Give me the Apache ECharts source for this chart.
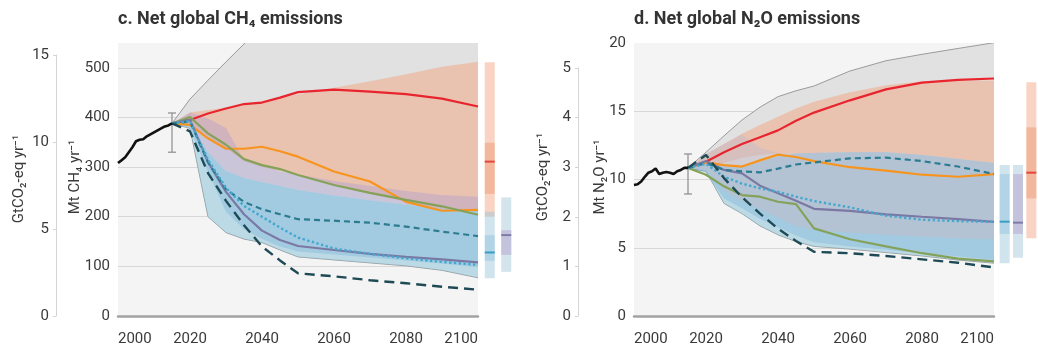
<!DOCTYPE html>
<html><head><meta charset="utf-8">
<script src="https://cdn.jsdelivr.net/npm/echarts@6/dist/echarts.min.js"></script>
<style>html,body{margin:0;padding:0;background:#fff}#c{width:1038px;height:354px}</style>
</head><body><div id="c"></div>
<script>
// ---------------- DATA ----------------
const years = [2015, 2020, 2025, 2030, 2035, 2040, 2045, 2050, 2060, 2070, 2080, 2090, 2100];
const histYears = [2000,2001,2002,2003,2004,2005,2006,2007,2008,2009,2010,2011,2012,2013,2014,2015];
const xTicks = [2000, 2020, 2040, 2060, 2080, 2100];

// CH4 (Mt CH4 / yr)
const ch4Hist = [308,314,320,330,340,352,355,356,362,366,370,374,378,382,384,388];
const ch4HistRange = [2015, 330, 409];
const ch4Red    = [388,395,408,418,427,430,440,451,456,452,447,438,422];
const ch4Orange = [388,385,358,337,337,341,332,321,291,271,230,212,214];
const ch4Green  = [388,401,368,345,316,304,296,284,264,248,234,221,204];
const ch4Purple = [388,395,310,250,205,172,153,141,133,125,119,114,108];
const ch4Cyan   = [388,393,315,258,222,200,178,158,136,125,116,109,103];
const ch4Teal   = [388,392,310,255,230,215,205,195,192,188,180,170,161];
const ch4Dark   = [388,372,288,232,183,140,112,86,80,72,66,59,53];
const ch4GrayLow    = [388,378,200,168,155,148,133,119,113,107,101,92,77];
const ch4GrayHigh   = [388,437,475,512,548,585,620,655,720,780,840,900,950];
const ch4SalmonLow  = [388,385,362,338,312,300,292,283,263,246,230,215,210];
const ch4SalmonHigh = [388,410,415,420,427,433,440,447,460,473,487,502,512];
const ch4PurpleLow  = [388,388,330,292,278,270,262,254,243,233,224,216,212];
const ch4PurpleHigh = [388,410,398,379,314,305,291,285,272,262,252,244,240];
const ch4BlueLow    = [388,380,290,210,175,155,140,130,124,118,112,106,98];
const ch4BlueHigh   = [388,388,330,292,278,270,262,254,243,233,224,216,212];
// ranges at 2100: [column, low, innerLow, median, innerHigh, high]
const ch4BarSalmon = [0, 200, 246, 311, 349, 511];
const ch4BarBlue   = [0, 76, 111, 128, 163, 210];
const ch4BarPurple = [1, 89, 123, 163, 173, 239];

// N2O (Mt N2O / yr)
const n2oHist = [9.6,9.65,9.85,10.2,10.5,10.6,10.8,10.4,10.5,10.55,10.5,10.4,10.6,10.7,10.85,10.85];
const n2oHistRange = [2015, 8.94, 11.87];
const n2oRed    = [10.85,11.3,12.0,12.6,13.1,13.6,14.3,14.9,15.8,16.6,17.1,17.3,17.4];
const n2oOrange = [10.85,11.25,11.05,10.95,11.4,11.82,11.65,11.35,10.9,10.65,10.35,10.2,10.4];
const n2oTeal   = [10.85,11.2,10.7,10.6,10.52,10.8,11.1,11.25,11.55,11.6,11.35,10.95,10.4];
const n2oPurple = [10.85,11.35,10.7,10.45,9.55,9.0,8.45,7.85,7.7,7.45,7.27,7.1,6.9];
const n2oCyan   = [10.85,11.15,10.2,9.7,9.35,9.1,8.74,8.42,7.96,7.35,7.05,6.95,6.9];
const n2oGreen  = [10.85,10.35,9.5,8.86,8.74,8.37,8.2,6.42,5.62,5.1,4.6,4.2,4.0];
const n2oDark   = [10.85,11.8,10.1,8.7,7.5,6.4,5.5,4.7,4.6,4.4,4.15,3.9,3.56];
const n2oGrayLow    = [10.85,10.6,8.25,7.5,6.6,5.95,5.45,5.1,4.9,4.65,4.4,4.1,3.87];
const n2oGrayHigh   = [10.85,12.0,13.2,14.36,15.3,16.07,16.5,16.85,17.95,18.7,19.17,19.6,20.02];
const n2oSalmonLow  = [10.85,11.0,11.2,11.6,11.8,11.9,11.9,11.95,12.0,12.0,11.8,11.5,11.2];
const n2oSalmonHigh = [10.85,11.8,12.6,13.35,14.0,14.6,15.2,15.7,16.4,16.9,17.2,17.25,17.25];
const n2oPurpleLow  = [10.85,10.7,9.2,8.4,7.8,7.2,6.6,6.3,6.1,5.95,5.8,5.7,5.6];
const n2oPurpleHigh = [10.85,11.9,12.6,13.3,12.3,11.95,11.9,11.95,12.0,12.0,11.8,11.5,11.2];
const n2oBlueLow    = [10.85,10.5,8.6,7.9,7.1,6.5,5.9,5.4,5.1,4.85,4.6,4.35,4.1];
const n2oBlueHigh   = [10.85,11.4,11.0,10.9,11.3,11.7,11.9,11.95,12.0,12.0,11.8,11.5,11.2];
const n2oBarBlue   = [0, 3.86, 6.01, 6.91, 10.4, 11.06];
const n2oBarPurple = [1, 4.27, 6.01, 6.84, 10.4, 11.06];
const n2oBarSalmon = [2, 5.69, 8.62, 10.5, 13.82, 17.12];

// ---------------- STYLE ----------------
const FONT = "'Roboto',sans-serif";
const TXT = '#3a3a3a';
const C = {
  red:'#e8252e', orange:'#f7941e', green:'#84a25a', purple:'#7b78a4',
  cyan:'#45a8cf', teal:'#2c7c91', dark:'#1e4a55', black:'#111111'
};

function pairs(xs, ys){ return xs.map((x,i)=>[x, ys[i]]); }

function bandSeries(ax, low, high, fill, edge, z){
  const data = years.map((y,i)=>[y, low[i], high[i]]);
  return {
    type:'custom', xAxisIndex:ax, yAxisIndex:ax, z:z, silent:true, data:data,
    encode:{x:0, y:[1,2]},
    renderItem:function(params, api){
      if (params.dataIndex !== 0) return null;
      const top = data.map(d=>api.coord([d[0], d[2]]));
      const bot = data.map(d=>api.coord([d[0], d[1]]));
      const cs = params.coordSys;
      const children = [{type:'polygon', shape:{points: top.concat(bot.slice().reverse())}, style:{fill:fill}}];
      if (edge){
        children.push({type:'polyline', shape:{points:top}, style:{stroke:edge, lineWidth:1, fill:null}});
        children.push({type:'polyline', shape:{points:bot}, style:{stroke:edge, lineWidth:1, fill:null}});
      }
      return {type:'group', children:children,
        clipPath:{type:'rect', shape:{x:cs.x, y:cs.y, width:cs.width, height:cs.height}}};
    }
  };
}

function lineSeries(ax, xs, ys, color, width, dash, z){
  return {
    type:'line', xAxisIndex:ax, yAxisIndex:ax, data:pairs(xs, ys), z:z||10,
    symbol:'none', silent:true, smooth:false,
    lineStyle:{color:color, width:width, type:dash||'solid', cap:'butt'}
  };
}

function errSeries(ax, r){
  return {
    type:'custom', xAxisIndex:ax, yAxisIndex:ax, z:9, silent:true, data:[r],
    encode:{x:0, y:[1,2]},
    renderItem:function(params, api){
      const a = api.coord([api.value(0), api.value(1)]);
      const b = api.coord([api.value(0), api.value(2)]);
      const st = {stroke:'#8c8c8c', lineWidth:1.2};
      return {type:'group', children:[
        {type:'line', shape:{x1:a[0], y1:a[1], x2:b[0], y2:b[1]}, style:st},
        {type:'line', shape:{x1:a[0]-4, y1:a[1], x2:a[0]+4, y2:a[1]}, style:st},
        {type:'line', shape:{x1:b[0]-4, y1:b[1], x2:b[0]+4, y2:b[1]}, style:st}
      ]};
    }
  };
}

function barSeries(ax, bar, outer, inner, median){
  return {
    type:'custom', xAxisIndex:ax, yAxisIndex:ax, z:5, silent:true, data:[bar],
    encode:{x:0, y:[1,5]},
    renderItem:function(params, api){
      const w = 10;
      const lo = api.coord([api.value(0), api.value(1)]);
      const il = api.coord([api.value(0), api.value(2)]);
      const md = api.coord([api.value(0), api.value(3)]);
      const ih = api.coord([api.value(0), api.value(4)]);
      const hi = api.coord([api.value(0), api.value(5)]);
      const x = lo[0] - w/2;
      return {type:'group', children:[
        {type:'rect', shape:{x:x, y:hi[1], width:w, height:lo[1]-hi[1]}, style:{fill:outer}},
        {type:'rect', shape:{x:x, y:ih[1], width:w, height:il[1]-ih[1]}, style:{fill:inner}},
        {type:'rect', shape:{x:x, y:md[1]-1, width:w, height:2}, style:{fill:median}}
      ]};
    }
  };
}

const labelStyle = {color:TXT, fontSize:15, fontFamily:FONT};

function mainX(gi){
  return {type:'value', gridIndex:gi, min:2000, max:2100, interval:20,
    axisLine:{show:true, onZero:false, lineStyle:{color:'#a3a3a3', width:2.5}},
    axisTick:{show:false}, splitLine:{show:false},
    axisLabel:Object.assign({margin:16, showMinLabel:true, showMaxLabel:true,
      alignMinLabel:'left', alignMaxLabel:'right', formatter:v=>String(v)}, labelStyle)};
}
function hiddenX(gi, cats){
  const base = {gridIndex:gi, show:false};
  return cats ? Object.assign({type:'category', data:cats, boundaryGap:true}, base)
              : Object.assign({type:'value', min:0, max:1}, base);
}
function mainY(gi, max, interval, showMax){
  return {type:'value', gridIndex:gi, min:0, max:max, interval:interval,
    axisLine:{show:false}, axisTick:{show:false},
    splitLine:{show:true, showMaxLine:false, lineStyle:{color:'#d8d8d8', width:1}},
    axisLabel:Object.assign({margin:8, showMaxLabel:showMax}, labelStyle)};
}
function secY(gi, max, interval){
  return {type:'value', gridIndex:gi, min:0, max:max, interval:interval, position:'left',
    axisLine:{show:true, lineStyle:{color:'#d4d4d4', width:1}},
    axisTick:{show:true, length:3, lineStyle:{color:'#d4d4d4'}},
    splitLine:{show:false},
    axisLabel:Object.assign({margin:7}, labelStyle)};
}
function hiddenY(gi, max){
  return {type:'value', gridIndex:gi, min:0, max:max, show:false, splitLine:{show:false}};
}

const ch4Fills = {
  gray:'#e1e1e1', grayEdge:'#9b9b9b',
  salmon:'rgba(245,160,118,0.45)',
  purple:'rgba(170,156,208,0.4)', purpleOnTop:false,
  lightBlue:'rgba(150,212,236,0.5)',
  blue:'rgba(110,170,215,0.32)'
};
const n2oFills = {
  gray:'#e1e1e1', grayEdge:'#9b9b9b',
  salmon:'rgba(245,160,118,0.45)',
  purple:'rgba(196,188,200,0.5)', purpleOnTop:true,
  lightBlue:'rgba(150,212,236,0.5)',
  blue:'rgba(110,170,215,0.32)'
};

function panelSeries(ax, d, f){
  const purple = bandSeries(ax, d.purpleLow, d.purpleHigh, f.purple, null, f.purpleOnTop ? 6 : 3);
  return [
    bandSeries(ax, d.grayLow, d.grayHigh, f.gray, f.grayEdge, 1),
    bandSeries(ax, d.salmonLow, d.salmonHigh, f.salmon, null, 2),
    purple,
    bandSeries(ax, d.grayLow, d.blueHigh, f.lightBlue, null, 4),
    bandSeries(ax, d.blueLow, d.blueHigh, f.blue, null, 5),
    errSeries(ax, d.range),
    lineSeries(ax, histYears, d.hist, C.black, 2.6, 'solid', 11),
    lineSeries(ax, years, d.red, C.red, 2.2),
    lineSeries(ax, years, d.orange, C.orange, 2.2),
    lineSeries(ax, years, d.green, C.green, 2.2),
    lineSeries(ax, years, d.purple, C.purple, 2.2),
    lineSeries(ax, years, d.teal, C.teal, 2.2, [6,4]),
    lineSeries(ax, years, d.cyan, C.cyan, 2.4, [2.4,2.4]),
    lineSeries(ax, years, d.dark, C.dark, 2.4, [10,6])
  ];
}

const ch4 = {grayLow:ch4GrayLow, grayHigh:ch4GrayHigh, salmonLow:ch4SalmonLow, salmonHigh:ch4SalmonHigh,
  purpleLow:ch4PurpleLow, purpleHigh:ch4PurpleHigh, blueLow:ch4BlueLow, blueHigh:ch4BlueHigh,
  range:ch4HistRange, hist:ch4Hist, red:ch4Red, orange:ch4Orange, green:ch4Green, purple:ch4Purple,
  teal:ch4Teal, cyan:ch4Cyan, dark:ch4Dark};
const n2o = {grayLow:n2oGrayLow, grayHigh:n2oGrayHigh, salmonLow:n2oSalmonLow, salmonHigh:n2oSalmonHigh,
  purpleLow:n2oPurpleLow, purpleHigh:n2oPurpleHigh, blueLow:n2oBlueLow, blueHigh:n2oBlueHigh,
  range:n2oHistRange, hist:n2oHist, red:n2oRed, orange:n2oOrange, green:n2oGreen, purple:n2oPurple,
  teal:n2oTeal, cyan:n2oCyan, dark:n2oDark};

const barCol = {
  salmonO:'rgba(242,160,125,0.45)', salmonI:'rgba(232,140,100,0.4)', salmonM:'#e5463d',
  blueO:'rgba(150,195,218,0.45)', blueI:'rgba(120,185,215,0.35)', blueM:'#3a9fc6',
  purpleO:'#d4e4ed', purpleI:'#c4c3de', purpleM:'#7e7ba6'
};

function axisName(x, y, text){
  return {type:'text', x:x, y:y, rotation:Math.PI/2, z:20,
    style:{text:text, fill:TXT, fontSize:15, fontFamily:FONT, align:'center', verticalAlign:'middle'}};
}
function title(x, text){
  return {type:'text', x:x, y:19, z:20,
    style:{text:text, fill:'#333', fontSize:18, fontWeight:'bold', fontFamily:FONT, align:'left', verticalAlign:'middle'}};
}

const option = {
  backgroundColor:'#ffffff',
  animation:false,
  grid:[
    {left:118, top:43, width:360, height:273, show:true, backgroundColor:'#f4f4f4', borderWidth:0},
    {left:56, top:55, width:1, height:261},
    {left:481.5, top:43, width:33, height:273},
    {left:634, top:43, width:360, height:273, show:true, backgroundColor:'#f4f4f4', borderWidth:0},
    {left:578, top:68, width:1, height:248},
    {left:998, top:43, width:48, height:273}
  ],
  xAxis:[ mainX(0), hiddenX(1), hiddenX(2, ['a','b']), mainX(3), hiddenX(4), hiddenX(5, ['a','b','c']) ],
  yAxis:[ mainY(0, 550, 100, false), secY(1, 15, 5), hiddenY(2, 550),
          mainY(3, 20, 5, true), secY(4, 5, 1), hiddenY(5, 20) ],
  graphic:[
    title(118, 'c. Net global CH₄ emissions'),
    title(634, 'd. Net global N₂O emissions'),
    axisName(19, 179, 'GtCO₂-eq yr⁻¹'),
    axisName(75, 177, 'Mt CH₄ yr⁻¹'),
    axisName(543, 177, 'GtCO₂-eq yr⁻¹'),
    axisName(600, 177, 'Mt N₂O yr⁻¹')
  ],
  series: [].concat(
    panelSeries(0, ch4, ch4Fills),
    panelSeries(3, n2o, n2oFills),
    [
      barSeries(2, ch4BarSalmon, barCol.salmonO, barCol.salmonI, barCol.salmonM),
      barSeries(2, ch4BarBlue, barCol.blueO, barCol.blueI, barCol.blueM),
      barSeries(2, ch4BarPurple, barCol.purpleO, barCol.purpleI, barCol.purpleM),
      barSeries(5, n2oBarBlue, barCol.blueO, barCol.blueI, barCol.blueM),
      barSeries(5, n2oBarPurple, barCol.purpleO, barCol.purpleI, barCol.purpleM),
      barSeries(5, n2oBarSalmon, barCol.salmonO, barCol.salmonI, barCol.salmonM)
    ]
  )
};

const chart = echarts.init(document.getElementById('c'), null, {renderer:'canvas'});
chart.setOption(option);
</script>
</body></html>
